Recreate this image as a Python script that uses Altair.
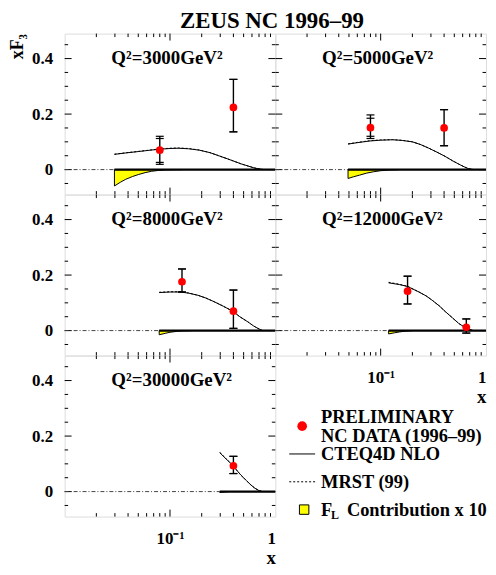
import altair as alt
import pandas as pd

SERIF = "Liberation Serif"
TITLE = "ZEUS NC 1996–99"

# ---------------- data ----------------
Q2_LABELS = ["Q²=3000GeV²", "Q²=5000GeV²", "Q²=8000GeV²", "Q²=12000GeV²", "Q²=30000GeV²"]
X_MIN = [0.0297, 0.049, 0.079, 0.119, 0.297]

DATA_X = [[0.08, 0.40], [0.08, 0.40], [0.13, 0.40], [0.18, 0.65], [0.40]]
DATA_Y = [[0.070, 0.224], [0.151, 0.150], [0.176, 0.070], [0.142, 0.012], [0.093]]
TOT_LO = [[0.019, 0.136], [0.112, 0.086], [0.139, 0.008], [0.096, -0.009], [0.065]]
TOT_HI = [[0.120, 0.325], [0.197, 0.216], [0.222, 0.146], [0.196, 0.042], [0.127]]
STAT_LO = [[0.026, 0.136], [0.120, 0.086], [0.139, 0.008], [0.096, -0.009], [0.065]]
STAT_HI = [[0.112, 0.325], [0.185, 0.216], [0.222, 0.146], [0.196, 0.042], [0.127]]

CTEQ_X = [
    [0.0297, 0.038, 0.05, 0.065, 0.08, 0.10, 0.12, 0.15, 0.19, 0.24, 0.29, 0.35, 0.40, 0.47, 0.55, 0.63, 0.70, 0.78],
    [0.049, 0.06, 0.0785, 0.10, 0.13, 0.16, 0.20, 0.24, 0.287, 0.35, 0.412, 0.48, 0.55, 0.62, 0.68, 0.76],
    [0.079, 0.10, 0.125, 0.15, 0.185, 0.22, 0.266, 0.32, 0.394, 0.46, 0.546, 0.62, 0.678, 0.755],
    [0.119, 0.15, 0.18, 0.231, 0.27, 0.309, 0.36, 0.412, 0.48, 0.55, 0.62, 0.68, 0.76],
    [0.297, 0.34, 0.394, 0.43, 0.472, 0.53, 0.586, 0.64, 0.70, 0.755],
]
CTEQ_Y = [
    [0.055, 0.060, 0.065, 0.070, 0.0735, 0.076, 0.077, 0.075, 0.070, 0.061, 0.050, 0.039, 0.031, 0.021, 0.013, 0.006, 0.0025, 0.0],
    [0.092, 0.097, 0.103, 0.106, 0.1075, 0.105, 0.100, 0.090, 0.077, 0.061, 0.047, 0.032, 0.020, 0.010, 0.0035, 0.0],
    [0.137, 0.139, 0.139, 0.135, 0.127, 0.117, 0.103, 0.088, 0.070, 0.050, 0.032, 0.017, 0.0085, 0.0],
    [0.172, 0.166, 0.159, 0.139, 0.125, 0.109, 0.089, 0.068, 0.046, 0.026, 0.013, 0.006, 0.0],
    [0.140, 0.118, 0.095, 0.077, 0.059, 0.040, 0.024, 0.012, 0.0035, 0.0],
]
MRST_X = CTEQ_X
MRST_Y = [
    [0.0555, 0.0605, 0.0655, 0.0705, 0.0745, 0.077, 0.078, 0.076, 0.0705, 0.061, 0.050, 0.039, 0.031, 0.021, 0.013, 0.006, 0.0025, 0.0],
    [0.0925, 0.098, 0.104, 0.107, 0.108, 0.1055, 0.100, 0.090, 0.077, 0.061, 0.047, 0.032, 0.020, 0.010, 0.0035, 0.0],
    [0.138, 0.140, 0.140, 0.1355, 0.127, 0.117, 0.103, 0.088, 0.070, 0.050, 0.032, 0.017, 0.0085, 0.0],
    [0.174, 0.167, 0.1595, 0.139, 0.125, 0.109, 0.089, 0.068, 0.046, 0.026, 0.013, 0.006, 0.0],
    [0.142, 0.1185, 0.095, 0.077, 0.059, 0.040, 0.024, 0.012, 0.0035, 0.0],
]
FL_X = [
    [0.0297, 0.034, 0.038, 0.044, 0.05, 0.058, 0.067, 0.078, 0.09, 0.11, 0.13],
    [0.049, 0.055, 0.063, 0.073, 0.085, 0.10, 0.12, 0.15],
    [0.079, 0.09, 0.10, 0.115, 0.13, 0.16],
    [0.119, 0.135, 0.15, 0.17, 0.2],
    [0.297, 0.33, 0.36],
]
FL_Y = [
    [-0.059, -0.045, -0.035, -0.025, -0.018, -0.011, -0.006, -0.003, -0.0012, -0.0003, 0.0],
    [-0.032, -0.026, -0.020, -0.013, -0.008, -0.004, -0.0015, 0.0],
    [-0.015, -0.010, -0.006, -0.003, -0.001, 0.0],
    [-0.012, -0.008, -0.005, -0.002, 0.0],
    [-0.003, -0.001, 0.0],
]

Y_MAJOR = [0.0, 0.2, 0.4]
Y_MINOR = [-0.05, 0.05, 0.1, 0.15, 0.25, 0.3, 0.35, 0.45]
X_MAJOR = [0.1]
X_MINOR = [0.02, 0.03, 0.04, 0.05, 0.06, 0.07, 0.08, 0.09, 0.2, 0.3, 0.4, 0.5, 0.6, 0.7, 0.8, 0.9]
X_DOMAIN = [0.01, 1.0]
Y_DOMAIN = [-0.09, 0.49]

LEG_ITEMS = ["data", "cteq", "mrst", "fl"]
LEG_LINE1 = ["PRELIMINARY", "CTEQ4D NLO", "MRST (99)", "F"]
LEG_LINE2 = ["NC DATA (1996–99)", "", "", ""]
LEG_SUB = ["", "", "", "L"]
LEG_TAIL = ["", "", "", "Contribution x 10"]

# ---------------- layout / style ----------------
W, H = 212, 162
MAJ, MIN = 7, 3.5
XS = alt.Scale(type="log", domain=X_DOMAIN, nice=False)
YS = alt.Scale(domain=Y_DOMAIN, nice=False, zero=False)


def panel(i, show_y, show_x, ytitle=None):
    if show_x:
        xax = alt.Axis(values=[0.1, 1.0], labelExpr="datum.value < 0.5 ? '10⁻¹' : '1'",
                       ticks=False, domain=False, grid=False, labelFlush=True, labelOverlap=False,
                       labelPadding=14, labelFont=SERIF, labelFontWeight="bold", labelFontSize=17,
                       labelColor="black", title="x", titleAnchor="end", titleAlign="right",
                       titleFont=SERIF, titleFontWeight="bold", titleFontSize=19, titleColor="black",
                       titlePadding=2)
    else:
        xax = None
    if show_y:
        yax = alt.Axis(values=Y_MAJOR, labelExpr="datum.value == 0 ? '0' : format(datum.value, '.1f')",
                       ticks=False, domain=False, grid=False, labelPadding=12, labelFont=SERIF,
                       labelFontWeight="bold", labelFontSize=17, labelColor="black",
                       title=ytitle if ytitle else None, titleFont=SERIF, titleFontWeight="bold",
                       titleFontSize=18, titleColor="black", titleAngle=270, titleAlign="right",
                       titleBaseline="middle", titleX=-47, titleY=0)
    else:
        yax = None

    def X(f):
        return alt.X(f, type="quantitative", scale=XS, axis=xax)

    def Y(f):
        return alt.Y(f, type="quantitative", scale=YS, axis=yax)

    xmin = X_MIN[i]
    pts = pd.DataFrame({"x": DATA_X[i], "y": DATA_Y[i], "lo": TOT_LO[i], "hi": TOT_HI[i],
                        "slo": STAT_LO[i], "shi": STAT_HI[i]})
    caps = pd.DataFrame({"x": DATA_X[i] * 4,
                         "v": TOT_LO[i] + TOT_HI[i] + STAT_LO[i] + STAT_HI[i]})
    cteq = pd.DataFrame({"x": CTEQ_X[i], "y": CTEQ_Y[i]})
    mrst = pd.DataFrame({"x": MRST_X[i], "y": MRST_Y[i]})
    fl = pd.DataFrame({"x": FL_X[i], "y": FL_Y[i], "z": [0.0] * len(FL_X[i])})
    zl_dd = pd.DataFrame({"x0": [X_DOMAIN[0]], "x1": [xmin], "z": [0.0]})
    zl_s = pd.DataFrame({"x0": [xmin], "x1": [X_DOMAIN[1]], "z": [0.0]})
    ymaj = pd.DataFrame({"v": Y_MAJOR})
    ymin = pd.DataFrame({"v": Y_MINOR})
    xmaj = pd.DataFrame({"v": X_MAJOR})
    xmn = pd.DataFrame({"v": X_MINOR})
    lab = pd.DataFrame({"label": [Q2_LABELS[i]]})

    layers = []
    # inward ticks
    for df, ln in ((ymaj, MAJ), (ymin, MIN)):
        layers.append(alt.Chart(df).mark_rule(color="black", strokeWidth=1).encode(
            y=Y("v"), x=alt.value(0), x2=alt.value(ln)))
        layers.append(alt.Chart(df).mark_rule(color="black", strokeWidth=1).encode(
            y=Y("v"), x=alt.value(W - ln), x2=alt.value(W)))
    for df, ln in ((xmaj, MAJ), (xmn, MIN)):
        layers.append(alt.Chart(df).mark_rule(color="black", strokeWidth=1).encode(
            x=X("v"), y=alt.value(H), y2=alt.value(H - ln)))
        layers.append(alt.Chart(df).mark_rule(color="black", strokeWidth=1).encode(
            x=X("v"), y=alt.value(0), y2=alt.value(ln)))
    # FL contribution
    layers.append(alt.Chart(fl).mark_area(fill="#ffff00", stroke="black", strokeWidth=1,
                                          opacity=1).encode(x=X("x"), y=Y("y"), y2="z"))
    # zero lines
    layers.append(alt.Chart(zl_dd).mark_rule(color="#444444", strokeWidth=1,
                                             strokeDash=[4, 2, 1, 2]).encode(
        x=X("x0"), x2="x1", y=Y("z")))
    layers.append(alt.Chart(zl_s).mark_rule(color="black", strokeWidth=2.2).encode(
        x=X("x0"), x2="x1", y=Y("z")))
    # theory curves
    layers.append(alt.Chart(mrst).mark_line(color="black", strokeWidth=1,
                                            strokeDash=[2, 2]).encode(x=X("x"), y=Y("y")))
    layers.append(alt.Chart(cteq).mark_line(color="black", strokeWidth=1).encode(
        x=X("x"), y=Y("y")))
    # error bars and data
    layers.append(alt.Chart(pts).mark_rule(color="black", strokeWidth=1.4).encode(
        x=X("x"), y=Y("lo"), y2="hi"))
    layers.append(alt.Chart(caps).mark_tick(color="black", orient="horizontal", size=8,
                                            thickness=1.2, opacity=1).encode(x=X("x"), y=Y("v")))
    layers.append(alt.Chart(pts).mark_circle(color="#ff0000", size=60, opacity=1).encode(
        x=X("x"), y=Y("y")))
    layers.append(alt.Chart(lab).mark_text(font=SERIF, fontWeight="bold", fontSize=19,
                                           align="left", baseline="alphabetic",
                                           color="black").encode(
        text="label:N", x=alt.value(47), y=alt.value(31)))
    return alt.layer(*layers).properties(width=W, height=H)


def legend_panel():
    leg = pd.DataFrame({"item": LEG_ITEMS, "l1": LEG_LINE1, "l2": LEG_LINE2,
                        "sub": LEG_SUB, "tail": LEG_TAIL})
    yenc = alt.Y("item:N", scale=alt.Scale(type="point", domain=LEG_ITEMS, range=[71, 155],
                                           padding=0), axis=None)
    base = alt.Chart(leg)
    txt = dict(font=SERIF, fontWeight="bold", fontSize=18.5, align="left", color="black",
               baseline="middle")
    layers = [
        base.mark_circle(color="#ff0000", size=95, opacity=1).encode(
            y=yenc, x=alt.value(27)).transform_filter("datum.item == 'data'"),
        base.mark_rule(color="black", strokeWidth=1).encode(
            y=yenc, x=alt.value(14), x2=alt.value(40)).transform_filter("datum.item == 'cteq'"),
        base.mark_rule(color="black", strokeWidth=1, strokeDash=[2, 2]).encode(
            y=yenc, x=alt.value(14), x2=alt.value(40)).transform_filter("datum.item == 'mrst'"),
        base.mark_square(fill="#ffff00", stroke="black", strokeWidth=1, size=90, opacity=1).encode(
            y=yenc, x=alt.value(29)).transform_filter("datum.item == 'fl'"),
        base.mark_text(dy=-9.5, **txt).encode(
            y=yenc, x=alt.value(46), text="l1:N").transform_filter("datum.l2 != ''"),
        base.mark_text(dy=9.5, **txt).encode(
            y=yenc, x=alt.value(46), text="l2:N").transform_filter("datum.l2 != ''"),
        base.mark_text(**txt).encode(
            y=yenc, x=alt.value(46), text="l1:N").transform_filter("datum.l2 == ''"),
        base.mark_text(font=SERIF, fontWeight="bold", fontSize=12, align="left",
                       baseline="middle", dy=5, color="black").encode(
            y=yenc, x=alt.value(56), text="sub:N"),
        base.mark_text(**txt).encode(
            y=yenc, x=alt.value(72), text="tail:N"),
    ]
    return alt.layer(*layers).properties(width=W, height=H, view=alt.ViewBackground(stroke=None))


charts = [
    panel(0, True, False, "xF₃"),
    panel(1, False, False),
    panel(2, True, False),
    panel(3, False, True),
    panel(4, True, True),
    legend_panel(),
]

chart = alt.concat(*charts, columns=2, spacing=0, bounds="flush").resolve_scale(
    x="independent", y="independent"
).properties(
    title=alt.Title(TITLE, font=SERIF, fontWeight="bold", fontSize=23, color="black",
                    anchor="start", frame="group", dx=116, offset=0),
    padding={"left": 0, "top": 0, "right": 0, "bottom": -3},
).configure_view(stroke="black", strokeWidth=1.5).configure(font=SERIF)

chart.save("out.html", embed_options={"renderer": "svg", "actions": False})
